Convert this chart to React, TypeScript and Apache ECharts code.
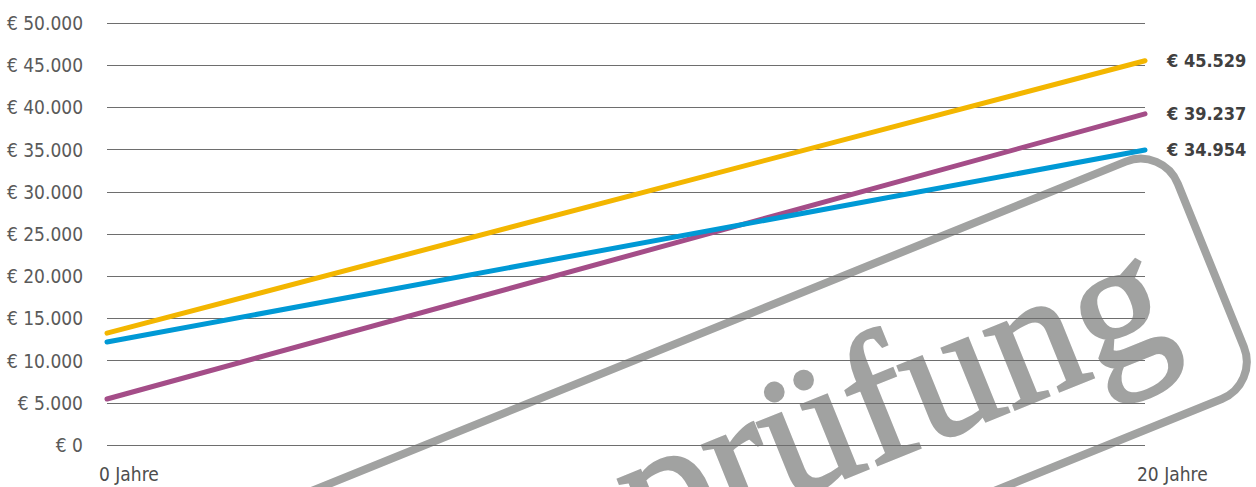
import React, { useEffect, useRef } from "react";
import * as echarts from "echarts";

const years = [0, 20];
const yellowValues = [13250, 45529];
const blueValues = [12200, 34954];
const purpleValues = [5450, 39237];
const yTicks = { min: 0, max: 50000, interval: 5000 };
const stampText = "prüfung";

const NARROW = "'DejaVu Sans Condensed', 'Roboto', sans-serif";

const fmt = (v: number) => "€ " + Math.round(v).toString().replace(/\B(?=(\d{3})+(?!\d))/g, ".");

const toPairs = (vals: number[]) => years.map((y, i) => [y, vals[i]]);

export default function App() {
  const ref = useRef<HTMLDivElement>(null);
  useEffect(() => {
    if (!ref.current) return;
    const chart = echarts.init(ref.current, undefined, { renderer: "svg" });
    const theta = (22 * Math.PI) / 180;
    const mkSeries = (name: string, vals: number[], color: string) => ({
      name,
      type: "line",
      data: toPairs(vals),
      symbol: "none",
      lineStyle: { color, width: 5, cap: "round" },
      endLabel: {
        show: true,
        formatter: (p: any) => fmt(p.value[1]),
        distance: 22,
        color: "#404040",
        fontWeight: "bold",
        fontSize: 18,
        fontFamily: NARROW,
      },
    });
    chart.setOption({
      animation: false,
      grid: { left: 107, right: 111, top: 23, bottom: 42, containLabel: false },
      xAxis: {
        type: "value",
        min: 0,
        max: 20,
        interval: 20,
        axisLine: { show: false },
        axisTick: { show: false },
        splitLine: { show: false },
        axisLabel: {
          formatter: (v: number) => `${v} Jahre`,
          align: "left",
          margin: 19,
          padding: [0, 0, 0, -8],
          color: "#4d4d4d",
          fontSize: 19,
          fontFamily: NARROW,
        },
      },
      yAxis: {
        type: "value",
        ...yTicks,
        axisLine: { show: false },
        axisTick: { show: false },
        splitLine: { show: true, lineStyle: { color: "#6e6e6e", width: 1.2 } },
        axisLabel: {
          formatter: (v: number) => fmt(v),
          margin: 24,
          color: "#5a5a5a",
          fontSize: 19,
          fontFamily: NARROW,
        },
      },
      series: [
        mkSeries("purple", purpleValues, "#A44D88"),
        mkSeries("yellow", yellowValues, "#F3B600"),
        mkSeries("blue", blueValues, "#0099D5"),
      ],
      graphic: [
        {
          type: "group",
          x: 0,
          y: 0,
          rotation: theta,
          z: 100,
          silent: true,
          children: [
            {
              type: "rect",
              shape: { x: 23, y: 572, width: 1000, height: 256, r: 40 },
              style: { fill: "none", stroke: "#a1a2a1", lineWidth: 8 },
            },
            {
              type: "text",
              x: 966,
              y: 698,
              style: {
                text: stampText,
                fontSize: 182,
                fontFamily: "'Liberation Serif', 'DejaVu Serif', serif",
                fill: "#a1a2a1",
                stroke: "#a1a2a1",
                lineWidth: 3,
                align: "right",
                verticalAlign: "middle",
              },
            },
          ],
        },
      ],
    });
    return () => chart.dispose();
  }, []);
  return (
    <div
      ref={ref}
      style={{ position: "absolute", left: 0, top: 0, width: 1256, height: 487 }}
    />
  );
}
